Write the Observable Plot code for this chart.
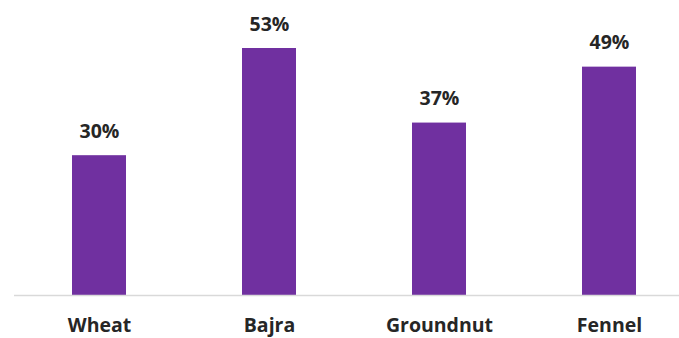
<!DOCTYPE html>
<html><head><meta charset="utf-8">
<script src="https://cdn.jsdelivr.net/npm/d3@7"></script>
<script src="https://cdn.jsdelivr.net/npm/@observablehq/plot@0.6"></script>
<style>body{margin:0;background:#fff}svg{display:block}</style>
</head><body><div id="chart"></div>
<script>
const categories = ["Wheat", "Bajra", "Groundnut", "Fennel"];
const values = [30, 53, 37, 49];
const data = categories.map((c, i) => ({category: c, value: values[i]}));
const chart = Plot.plot({
  width: 679, height: 338,
  marginLeft: 14, marginRight: 0, marginTop: 0, marginBottom: 43,
  style: {fontFamily: "'Open Sans', sans-serif", background: "#fff", overflow: "visible"},
  x: {domain: categories, range: [14, 694], paddingInner: 0.68, paddingOuter: 0.34, label: null, axis: null},
  y: {domain: [0, 53], range: [295, 48], axis: null},
  marks: [
    Plot.barY(data, {x: "category", y: "value", fill: "#7030A0"}),
    Plot.ruleY([0], {stroke: "#d9d9d9", strokeWidth: 1.5}),
    Plot.text(data, {x: "category", y: "value", text: d => d.value + "%", dy: -24, fontSize: 19.5, fontWeight: "bold", fill: "#262626"}),
    Plot.text(data, {x: "category", y: 0, text: "category", dy: 30, fontSize: 19.5, fontWeight: "bold", fill: "#262626"})
  ]
});
document.getElementById("chart").appendChild(chart);
</script></body></html>
